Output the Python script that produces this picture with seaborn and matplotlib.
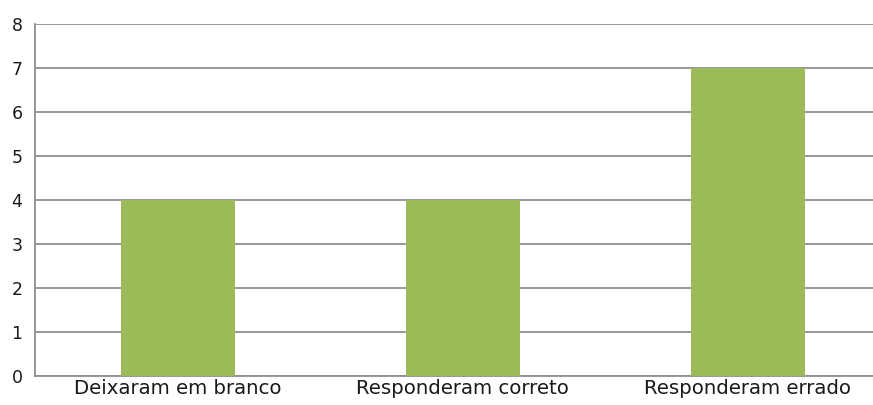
import matplotlib
matplotlib.use("Agg")
import matplotlib.pyplot as plt
import seaborn as sns
import pandas as pd

categories = ["Deixaram em branco", "Responderam correto", "Responderam errado"]
values = [4, 4, 7]
yticks = [0, 1, 2, 3, 4, 5, 6, 7, 8]

sns.set_theme(style="white")
plt.rcParams['font.family'] = ['DejaVu Sans']

df = pd.DataFrame({"cat": categories, "val": values})
fig = plt.figure(figsize=(8.73, 4.05), dpi=100)
left_px, right_px, top_px, bot_px = 35, 873, 24, 376
ax = fig.add_axes([left_px / 873, 1 - bot_px / 405, (right_px - left_px) / 873, (bot_px - top_px) / 405])
sns.barplot(data=df, x="cat", y="val", color="#9BBB59", saturation=1, width=0.40,
            linewidth=0, ax=ax, zorder=3)
ax.set_xlim(-0.5, -0.5 + (right_px - left_px) / 285)
ax.set_ylim(0, 8)
ax.set_yticks(yticks)
ax.set_yticklabels([str(t) for t in yticks], fontsize=12.5, color="#1a1a1a")
ax.tick_params(axis="x", labelsize=14.2, colors="#1a1a1a", length=0, pad=2)
ax.tick_params(axis="y", length=0, pad=9)
ax.set_xlabel("")
ax.set_ylabel("")
ax.yaxis.grid(True, color="#909090", linewidth=1.3, zorder=0)
ax.set_axisbelow(True)
for s in ["top", "right"]:
    ax.spines[s].set_visible(False)
for s in ["left", "bottom"]:
    ax.spines[s].set_color("#909090")
    ax.spines[s].set_linewidth(1.3)
fig.savefig("out.png", dpi=100)
